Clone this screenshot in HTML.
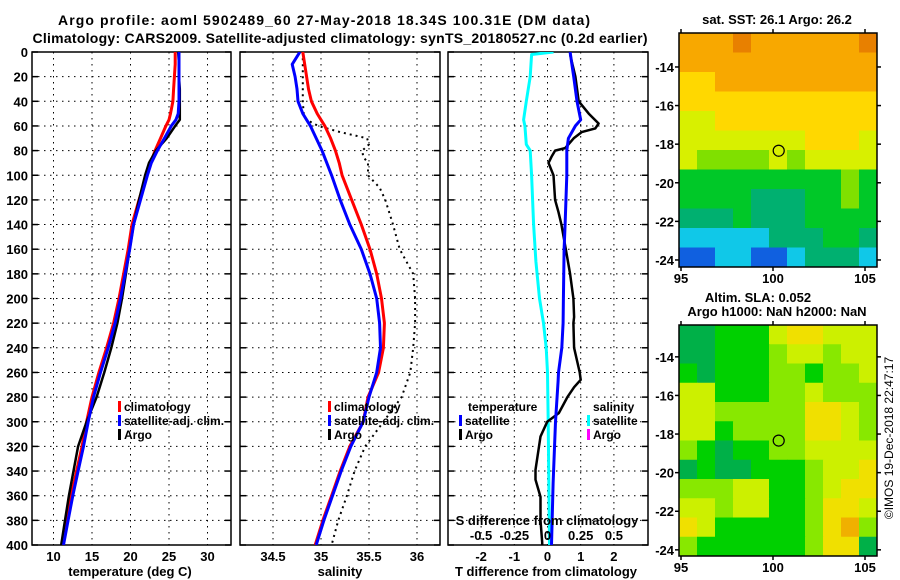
<!DOCTYPE html>
<html><head><meta charset="utf-8"><style>
html,body{margin:0;padding:0;background:#fff;}
svg{display:block;font-family:"Liberation Sans",sans-serif;font-weight:bold;}
</style></head><body>
<svg id="chart" xmlns="http://www.w3.org/2000/svg" width="900" height="580" viewBox="0 0 900 580">
<defs>
<clipPath id="c1"><rect x="32" y="52" width="199" height="493"/></clipPath>
<clipPath id="c2"><rect x="240" y="52" width="200" height="493"/></clipPath>
<clipPath id="c3"><rect x="448" y="52" width="200" height="493"/></clipPath>
</defs>
<text x="324" y="25" text-anchor="middle" font-size="14" textLength="532">Argo profile: aoml 5902489_60 27-May-2018 18.34S 100.31E (DM data)</text>
<text x="340" y="43" text-anchor="middle" font-size="14" textLength="615">Climatology: CARS2009. Satellite-adjusted climatology: synTS_20180527.nc (0.2d earlier)</text>
<g id="g1"></g>
<g id="g2"></g>
<g id="g3"></g>
<g id="m1"></g>
<g id="m2"></g>
<text x="777" y="24" text-anchor="middle" font-size="13">sat. SST: 26.1 Argo: 26.2</text>
<text x="758" y="302" text-anchor="middle" font-size="13">Altim. SLA: 0.052</text>
<text x="777" y="316" text-anchor="middle" font-size="13">Argo h1000: NaN h2000: NaN</text>
<text transform="translate(893,438) rotate(-90)" text-anchor="middle" font-size="12" font-weight="normal">©IMOS 19-Dec-2018 22:47:17</text>
</svg>
<script>
const depths = [0,10,20,30,40,50,55,60,70,80,90,100,120,140,160,180,200,220,240,260,280,300,320,340,360,380,400];
const tempClim = [25.8,25.8,25.7,25.6,25.5,25.2,25.0,24.6,23.9,23.2,22.6,22.1,21.1,20.2,19.7,19.1,18.5,17.8,16.9,15.9,15.0,14.3,13.7,13.0,12.3,11.7,11.2];
const tempSat = [26.3,26.3,26.3,26.3,26.3,26.2,25.9,25.3,24.4,23.5,22.7,22.2,21.3,20.4,19.9,19.3,18.7,18.0,17.1,16.1,15.2,14.5,13.9,13.2,12.5,11.9,11.3];
const tempArgo = [26.2,26.3,26.3,26.4,26.4,26.4,26.4,25.8,24.7,23.3,22.4,21.9,21.1,20.4,19.9,19.4,18.9,18.3,17.5,16.6,15.6,14.3,13.2,12.6,12.0,11.5,11.0];
const salClim = [34.81,34.83,34.85,34.87,34.9,34.96,35.0,35.04,35.1,35.15,35.19,35.22,35.32,35.42,35.51,35.58,35.63,35.66,35.65,35.6,35.49,35.44,35.3,35.2,35.11,35.02,34.94];
const salSat = [34.78,34.70,34.73,34.75,34.76,34.81,34.85,34.89,34.95,35.01,35.06,35.11,35.2,35.30,35.42,35.51,35.58,35.61,35.62,35.58,35.5,35.44,35.31,35.21,35.12,35.03,34.95];
const argoSDepths = [5,20,40,50,55,60,65,70,75,80,85,90,100,110,120,140,160,180,200,220,240,260,280,300,320,340,360,380,400];
const salArgo = [34.81,34.81,34.81,34.82,34.85,34.97,35.2,35.48,35.5,35.43,35.44,35.49,35.49,35.61,35.67,35.75,35.82,35.96,35.98,35.98,35.96,35.93,35.84,35.65,35.46,35.35,35.27,35.18,35.11];
const satTDepths = [0,20,40,55,60,70,80,100,140,160,200,220,240,260,267,300,350,400];
const satTdiff = [0.68,0.79,0.89,1.0,0.84,0.63,0.58,0.58,0.53,0.5,0.48,0.47,0.43,0.33,0.32,0.24,0.17,0.12];
const argoTDepths = [2,20,40,50,58,62,65,70,75,78,80,85,90,100,120,130,140,160,180,200,215,220,240,260,266,272,280,293,300,312,339,347,361,380,398,400];
const argoTdiff = [0.68,0.84,0.94,1.24,1.54,1.44,1.03,0.79,0.63,0.53,0.23,0.12,0.03,0.18,0.23,0.33,0.42,0.55,0.68,0.78,0.8,0.78,0.8,0.97,1.0,0.8,0.6,0.34,-0.01,-0.21,-0.36,-0.36,-0.21,-0.21,-0.16,-0.16];
const satSDepths = [0,2,20,40,55,60,75,80,100,140,170,200,220,240,260,300,400];
const satSdiff = [0.045,-0.12,-0.13,-0.16,-0.18,-0.17,-0.16,-0.13,-0.12,-0.105,-0.087,-0.06,-0.03,-0.01,0.0,0.005,0.015];
const depthTicks = [0,20,40,60,80,100,120,140,160,180,200,220,240,260,280,300,320,340,360,380,400];
const tempTicks = [10,15,20,25,30];
const salTicks = [34.5,35,35.5,36];
const salTickLabels = ["34.5","35","35.5","36"];
const dTTicks = [-2,-1,0,1,2];
const dSTicks = [-0.5,-0.25,0,0.25,0.5];
const dSTickLabels = ["-0.5","-0.25","0","0.25","0.5"];
const lonTicks = [95,100,105];
const latTicks = [-14,-16,-18,-20,-22,-24];
const argoLon = 100.31, argoLat = -18.34;
const sstGrid = [
[8,8,8,9,8,8,8,8,8,8,9],[8,8,8,8,8,8,8,8,8,8,8],[7,7,8,8,8,8,8,8,8,8,8],[7,7,7,7,7,7,7,7,7,7,7],
[6,6,7,7,7,7,7,7,7,7,7],[6,6,6,6,6,6,6,7,7,7,6],[6,5,5,5,5,6,5,6,6,6,6],[4,4,4,4,4,4,4,4,4,5,4],
[4,4,4,4,3,3,3,4,4,5,4],[3,3,3,4,3,3,3,4,4,4,4],[2,2,2,2,2,3,3,3,4,4,3],[1,1,2,2,1,1,2,3,3,3,2]];
const slaGrid = [
[3,3,4,4,4,6,7,7,6,6,6],[3,3,4,4,4,5,6,6,5,6,6],[4,3,4,4,4,5,5,4,5,5,6],[6,6,4,4,4,5,5,6,5,5,5],
[6,6,5,5,5,5,5,7,7,6,5],[6,6,4,5,5,5,5,7,7,6,5],[5,4,3,4,4,5,5,6,6,6,6],[3,4,3,3,4,4,4,5,6,6,7],
[5,5,5,6,6,4,4,5,6,7,7],[6,6,5,6,6,4,4,5,7,7,6],[7,6,4,4,4,4,4,5,7,8,5],[5,4,4,4,4,4,4,5,7,7,3]];
const sstPalette = ["#0830a0","#1060e0","#10c8e8","#00b070","#00c828","#80e000","#d8f000","#ffd800","#f8a800","#e88000"];
const slaPalette = ["#0830a0","#1060e0","#10c8e8","#00b048","#00d000","#88e800","#ccf000","#f0e000","#f0b000","#e88000"];

const NS = "http://www.w3.org/2000/svg";
const yD = d => 52 + d * 1.2325;
const xT = t => 53.5 + (t - 10) * 7.7;
const xS = s => 321 + (s - 35) * 96;
const xDT = v => 547.5 + v * 33.2;
const xDS = v => 547.5 + v * 132.8;
function mk(tag, attrs, parent) {
  const e = document.createElementNS(NS, tag);
  for (const k in attrs) e.setAttribute(k, attrs[k]);
  parent.appendChild(e);
  return e;
}
function txt(s, attrs, parent) { const e = mk("text", attrs, parent); e.textContent = s; return e; }
function line(parent, xs, ds, xf, color, w, name, dash) {
  const pts = xs.map((v, i) => xf(v).toFixed(1) + "," + yD(ds[i]).toFixed(1)).join(" ");
  const p = mk("polyline", {points: pts, fill: "none", stroke: color, "stroke-width": w, "stroke-linejoin": "round"}, parent);
  if (dash) p.setAttribute("stroke-dasharray", dash);
  
  
}
function panel(g, x0, x1, xTicksPx, clip) {
  depthTicks.forEach(d => {
    const l = mk("line", {x1: x0, x2: x1, y1: yD(d), y2: yD(d), stroke: "#000", "stroke-width": 1, "stroke-dasharray": "1.5,4.5"}, g);
    
    
    mk("line", {x1: x0, x2: x0 + 6, y1: yD(d), y2: yD(d), stroke: "#000", "stroke-width": 1.5}, g);
    mk("line", {x1: x1 - 6, x2: x1, y1: yD(d), y2: yD(d), stroke: "#000", "stroke-width": 1.5}, g);
  });
  xTicksPx.forEach(x => {
    const l = mk("line", {x1: x, x2: x, y1: 52, y2: 545, stroke: "#000", "stroke-width": 1, "stroke-dasharray": "1.5,4.5"}, g);
    
    
  });
  const r = mk("rect", {x: x0, y: 52, width: x1 - x0, height: 493, fill: "none", stroke: "#000", "stroke-width": 1.5}, g);
  
  
  const cg = mk("g", {"clip-path": "url(#" + clip + ")"}, g);
  return cg;
}
function legend(g, x, y, items) {
  items.forEach((it, i) => {
    const yy = y + i * 14;
    const m = mk("rect", {x: x, y: yy - 10, width: 3, height: 11, fill: it[1]}, g);
    
    
    const t = txt(it[0], {x: x + 6, y: yy, "font-size": 12}, g);
    
    
  });
}
// Panel 1
const g1 = document.getElementById("g1");
const c1 = panel(g1, 32, 231, tempTicks.map(xT), "c1");
line(c1, tempClim, depths, xT, "#ff0000", 3, "temperature-climatology-line");
line(c1, tempArgo, depths, xT, "#000000", 2.5, "temperature-argo-line");
line(c1, tempSat, depths, xT, "#0000ff", 3, "temperature-satellite-line");
depthTicks.forEach(d => {
  const t = txt(String(d), {x: 28, y: yD(d) + 5, "font-size": 13, "text-anchor": "end"}, g1);
  
  
});
tempTicks.forEach(v => {
  const t = txt(String(v), {x: xT(v), y: 561, "font-size": 13, "text-anchor": "middle"}, g1);
  
  
});
const xl1 = txt("temperature (deg C)", {x: 130, y: 576, "font-size": 13, "text-anchor": "middle"}, g1);


legend(g1, 118, 411, [["climatology", "#ff0000"], ["satellite-adj. clim.", "#0000ff"], ["Argo", "#000"]]);
// Panel 2
const g2 = document.getElementById("g2");
const c2 = panel(g2, 240, 440, salTicks.map(xS), "c2");
line(c2, salArgo, argoSDepths, xS, "#000000", 2, "salinity-argo-line", "2,4");
line(c2, salClim, depths, xS, "#ff0000", 3, "salinity-climatology-line");
line(c2, salSat, depths, xS, "#0000ff", 3, "salinity-satellite-line");
salTicks.forEach((v, i) => {
  const t = txt(salTickLabels[i], {x: xS(v), y: 561, "font-size": 13, "text-anchor": "middle"}, g2);
  
  
});
const xl2 = txt("salinity", {x: 340, y: 576, "font-size": 13, "text-anchor": "middle"}, g2);


legend(g2, 328, 411, [["climatology", "#ff0000"], ["satellite-adj. clim.", "#0000ff"], ["Argo", "#000"]]);
// Panel 3
const g3 = document.getElementById("g3");
const c3 = panel(g3, 448, 648, dTTicks.map(xDT), "c3");
line(c3, satSdiff, satSDepths, xDS, "#00ffff", 3, "salinity-satellite-diff-line");
line(c3, argoTdiff, argoTDepths, xDT, "#000000", 2.5, "temperature-argo-diff-line");
line(c3, satTdiff, satTDepths, xDT, "#0000ff", 3, "temperature-satellite-diff-line");
dTTicks.forEach(v => {
  const t = txt(String(v), {x: xDT(v), y: 561, "font-size": 13, "text-anchor": "middle"}, g3);
  
  
});
dSTicks.forEach((v, i) => {
  const t = txt(dSTickLabels[i], {x: xDS(v), y: 540, "font-size": 13, "text-anchor": "middle"}, g3);
  
  
});
const sl = txt("S difference from climatology", {x: 547, y: 525, "font-size": 13, "text-anchor": "middle"}, g3);


const xl3 = txt("T difference from climatology", {x: 546, y: 576, "font-size": 13, "text-anchor": "middle"}, g3);


const lt = txt("temperature", {x: 468, y: 411, "font-size": 12}, g3);


legend(g3, 459, 425, [["satellite", "#0000ff"], ["Argo", "#000"]]);
const ls = txt("salinity", {x: 593, y: 411, "font-size": 12}, g3);


legend(g3, 587, 425, [["satellite", "#00ffff"], ["Argo", "#ff00ff"]]);
// Maps
function drawMap(id, top, bottom, grid, pal, latTop) {
  const g = document.getElementById(id);
  const left = 679, right = 877;
  const nR = grid.length, nC = grid[0].length;
  const cw = (right - left) / nC, ch = (bottom - top) / nR;
  grid.forEach((row, r) => row.forEach((v, c) => {
    const cell = mk("rect", {x: left + c * cw, y: top + r * ch, width: cw + 0.5, height: ch + 0.5, fill: pal[v]}, g);
    
    
  }));
  const lonX = lon => 773 + (lon - 100) * 18.4;
  const latY = lat => top + (latTop - lat) * 19.3;
  const fr = mk("rect", {x: left, y: top, width: right - left, height: bottom - top, fill: "none", stroke: "#000", "stroke-width": 1.5}, g);
  
  
  lonTicks.forEach(lon => {
    mk("line", {x1: lonX(lon), x2: lonX(lon), y1: top, y2: top - 4, stroke: "#000", "stroke-width": 1.5}, g);
    mk("line", {x1: lonX(lon), x2: lonX(lon), y1: bottom, y2: bottom + 4, stroke: "#000", "stroke-width": 1.5}, g);
    const t = txt(String(lon), {x: lonX(lon), y: bottom + 16, "font-size": 13, "text-anchor": "middle"}, g);
    
    
  });
  latTicks.forEach(lat => {
    mk("line", {x1: left, x2: left - 4, y1: latY(lat), y2: latY(lat), stroke: "#000", "stroke-width": 1.5}, g);
    mk("line", {x1: right, x2: right + 4, y1: latY(lat), y2: latY(lat), stroke: "#000", "stroke-width": 1.5}, g);
    const t = txt(String(lat), {x: 674, y: latY(lat) + 5, "font-size": 13, "text-anchor": "end"}, g);
    
    
  });
  const c = mk("circle", {cx: lonX(argoLon), cy: latY(argoLat), r: 5.5, fill: "none", stroke: "#000", "stroke-width": 1.2}, g);
  
  
}
drawMap("m1", 33, 267, sstGrid, sstPalette, -12.24);
drawMap("m2", 325, 556, slaGrid, slaPalette, -12.35);
</script>
</body></html>
